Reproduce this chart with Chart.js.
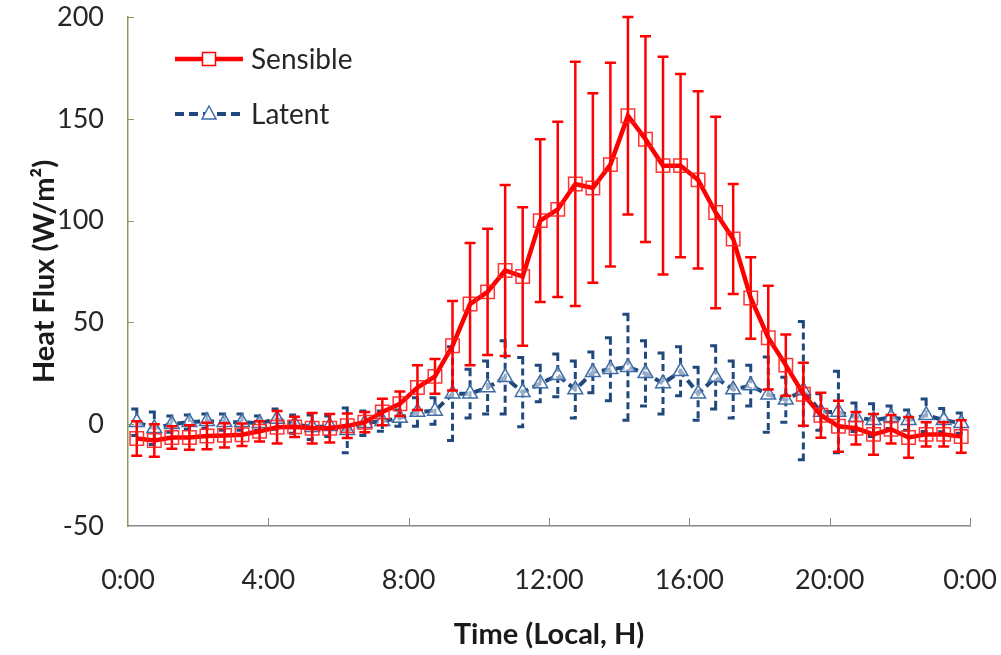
<!DOCTYPE html>
<html>
<head>
<meta charset="utf-8">
<script src="https://cdn.jsdelivr.net/npm/chart.js@4"></script>
<style>
  html, body { margin: 0; padding: 0; background: #fff; }
  #wrap { width: 1001px; height: 655px; }
</style>
</head>
<body>
<div id="wrap"><canvas id="fluxChart" width="1001" height="655"></canvas></div>
<script>
// half-hourly bins, plotted at the middle of each bin (hours)
const hours = [
    0.25, 0.75, 1.25, 1.75, 2.25, 2.75, 3.25, 3.75, 4.25, 4.75, 5.25, 5.75,
    6.25, 6.75, 7.25, 7.75, 8.25, 8.75, 9.25, 9.75, 10.25, 10.75, 11.25, 11.75,
    12.25, 12.75, 13.25, 13.75, 14.25, 14.75, 15.25, 15.75, 16.25, 16.75, 17.25, 17.75,
    18.25, 18.75, 19.25, 19.75, 20.25, 20.75, 21.25, 21.75, 22.25, 22.75, 23.25, 23.75
];

const sensible = [
    -7, -8, -6.5, -6.5, -5.8, -5.5, -5.2, -3.5, -1.5, -1.3, -2, -2,
    -0.8, 1, 6, 10, 18, 23.5, 38.5, 59, 65, 75.5, 72.5, 100,
    105.5, 118, 116, 127.5, 151.5, 140, 127, 127, 120, 104, 91, 62,
    42.5, 29, 14.7, 4.4, -1, -2, -5, -2.5, -6.5, -5, -5, -6
];
const sensibleErr = [
    8.5, 8, 5.5, 6, 6.5, 6, 5.5, 5, 8, 5, 7.5, 7,
    6, 5, 6.5, 6, 11, 8.5, 22, 30, 31, 42, 34, 40,
    43, 60, 46.5, 50, 48.5, 50.5, 53.5, 45, 43.5, 47, 27, 20,
    25.5, 15, 15.5, 11, 12.5, 8, 10, 7, 10, 6, 6, 8
];

const latent = [
    1, -2, 0, 1, 1.5, 1, 1, 0.5, 2.5, 0, -1.5, -1,
    -3, 0.5, 1.5, 3, 6, 6.5, 15, 15, 18, 23, 15.7, 20,
    24, 17, 25.5, 27, 28, 25, 20, 26, 15, 23, 17, 19,
    14.5, 12, 16.5, 6, 6, 3.4, 2, 3.4, 2, 4.4, 2, 0.5
];
const latentErr = [
    6.5, 8, 4, 3.5, 3.5, 4, 4, 3.5, 5, 4.5, 6, 5,
    11, 6, 5, 4, 7, 6.5, 23, 12, 13, 18, 17, 9,
    10.5, 14, 10, 15.5, 26, 16, 15, 12, 13, 15.5, 14, 10,
    18.5, 11, 34, 9, 20, 7, 8, 5.5, 5, 8, 5.7, 5
];

const xTicks = [0, 4, 8, 12, 16, 20, 24];
const yTicks = [-50, 0, 50, 100, 150, 200];

const RED = '#FF0000';
const NAVY = '#1F497D';
const TRI = '#3F6CA6';
const FONT = 'Lato, "Open Sans", sans-serif';

function toPoints(values) {
    return values.map((v, i) => ({ x: hours[i], y: v }));
}

// vertical error bars, drawn just under each dataset's line
const errorBars = {
    id: 'errorBars',
    beforeDatasetDraw(chart, args) {
        const ds = chart.data.datasets[args.index];
        if (!ds.errors) return;
        const yScale = chart.scales.y;
        const ctx = chart.ctx;
        ctx.save();
        ctx.strokeStyle = ds.errColor;
        ctx.lineWidth = ds.errWidth;
        ctx.setLineDash(ds.errDash);
        args.meta.data.forEach((pt, i) => {
            const v = ds.data[i].y;
            const e = ds.errors[i];
            const top = yScale.getPixelForValue(v + e);
            const bot = yScale.getPixelForValue(v - e);
            ctx.beginPath();
            ctx.moveTo(pt.x, top);
            ctx.lineTo(pt.x, bot);
            ctx.moveTo(pt.x - 5.5, top);
            ctx.lineTo(pt.x + 5.5, top);
            ctx.moveTo(pt.x - 5.5, bot);
            ctx.lineTo(pt.x + 5.5, bot);
            ctx.stroke();
        });
        ctx.restore();
    }
};

// Excel-like inside tick marks + the legend in the upper left
const decorations = {
    id: 'decorations',
    afterDraw(chart) {
        const { ctx, chartArea } = chart;
        const xs = chart.scales.x, ys = chart.scales.y;
        ctx.save();
        ctx.lineWidth = 1;
        ctx.strokeStyle = '#888888';
        xTicks.slice(1).forEach(t => {
            const px = Math.round(xs.getPixelForValue(t)) + 0.5;
            ctx.beginPath();
            ctx.moveTo(px, chartArea.bottom);
            ctx.lineTo(px, chartArea.bottom - 8);
            ctx.stroke();
        });
        ctx.strokeStyle = '#8a9a62';
        yTicks.slice(1).forEach(t => {
            const py = Math.round(ys.getPixelForValue(t)) + 0.5;
            ctx.beginPath();
            ctx.moveTo(chartArea.left, py);
            ctx.lineTo(chartArea.left + 6, py);
            ctx.stroke();
        });

        // legend
        const items = [
            { label: 'Sensible', y: 59, color: RED, dash: [], width: 4.5, marker: 'rect' },
            { label: 'Latent', y: 114, color: NAVY, dash: [9, 5], width: 4, marker: 'triangle' }
        ];
        items.forEach(it => {
            ctx.setLineDash(it.dash);
            ctx.strokeStyle = it.color;
            ctx.lineWidth = it.width;
            ctx.beginPath();
            ctx.moveTo(175, it.y);
            ctx.lineTo(243, it.y);
            ctx.stroke();
            ctx.setLineDash([]);
            if (it.marker === 'rect') {
                ctx.fillStyle = '#fff';
                ctx.fillRect(202.5, it.y - 6.5, 13, 13);
                ctx.strokeStyle = RED;
                ctx.lineWidth = 1.5;
                ctx.strokeRect(202.5, it.y - 6.5, 13, 13);
            } else {
                ctx.fillStyle = '#fff';
                ctx.strokeStyle = TRI;
                ctx.lineWidth = 1.5;
                ctx.beginPath();
                ctx.moveTo(209, it.y - 8);
                ctx.lineTo(216, it.y + 5);
                ctx.lineTo(202, it.y + 5);
                ctx.closePath();
                ctx.fill();
                ctx.stroke();
            }
            ctx.fillStyle = '#262626';
            ctx.font = '28px ' + FONT;
            ctx.textAlign = 'left';
            ctx.textBaseline = 'middle';
            ctx.fillText(it.label, 251, it.y + 1);
        });
        ctx.restore();
    }
};

new Chart(document.getElementById('fluxChart').getContext('2d'), {
    type: 'line',
    data: {
        datasets: [{
            label: 'Sensible',
            data: toPoints(sensible),
            errors: sensibleErr,
            errColor: RED,
            errDash: [],
            errWidth: 2.5,
            borderColor: RED,
            borderWidth: 4.5,
            pointStyle: 'rect',
            pointRadius: 9.5,
            pointBorderWidth: 1.5,
            pointBorderColor: 'rgba(255, 30, 30, 0.9)',
            pointBackgroundColor: 'rgba(0, 0, 0, 0)',
            tension: 0,
        }, {
            label: 'Latent',
            data: toPoints(latent),
            errors: latentErr,
            errColor: NAVY,
            errDash: [7, 4],
            errWidth: 3,
            borderColor: NAVY,
            borderWidth: 4,
            borderDash: [9, 5],
            pointStyle: 'triangle',
            pointRadius: 8.5,
            pointBorderWidth: 1.5,
            pointBorderColor: TRI,
            pointBackgroundColor: 'rgba(255, 255, 255, 0.55)',
            tension: 0,
        }],
    },
    options: {
        responsive: false,
        animation: false,
        devicePixelRatio: 1,
        layout: { padding: { top: 17, right: 31, left: 0, bottom: 0 } },
        plugins: {
            legend: { display: false },
            tooltip: { enabled: false },
        },
        scales: {
            x: {
                type: 'linear',
                min: 0,
                max: 24,
                afterBuildTicks: s => { s.ticks = xTicks.map(v => ({ value: v })); },
                afterFit: s => { s.height = 129; },
                grid: { drawOnChartArea: false, drawTicks: true, tickLength: 38, tickColor: 'rgba(0,0,0,0)' },
                border: { display: true, color: '#888888', width: 1.5 },
                ticks: {
                    padding: 0,
                    maxRotation: 0,
                    color: '#262626',
                    font: { family: FONT, size: 27 },
                    callback: v => (v % 24) + ':00',
                },
                title: {
                    display: true,
                    text: 'Time (Local, H)',
                    color: '#1a1a1a',
                    font: { family: FONT, size: 29, weight: 'bold' },
                    padding: { top: 0, bottom: 3 },
                },
            },
            y: {
                min: -50,
                max: 200,
                afterBuildTicks: s => { s.ticks = yTicks.map(v => ({ value: v })); },
                afterFit: s => { s.width = 128; },
                grid: { drawOnChartArea: false, drawTicks: true, tickLength: 24, tickColor: 'rgba(0,0,0,0)' },
                border: { display: true, color: '#8a9a62', width: 1.5 },
                ticks: {
                    padding: 0,
                    color: '#262626',
                    font: { family: FONT, size: 27 },
                },
                title: {
                    display: true,
                    text: 'Heat Flux (W/m²)',
                    color: '#1a1a1a',
                    font: { family: FONT, size: 29, weight: 'bold' },
                    padding: { top: 27, bottom: 0 },
                },
            },
        },
    },
    plugins: [errorBars, decorations],
});
</script>
</body>
</html>
